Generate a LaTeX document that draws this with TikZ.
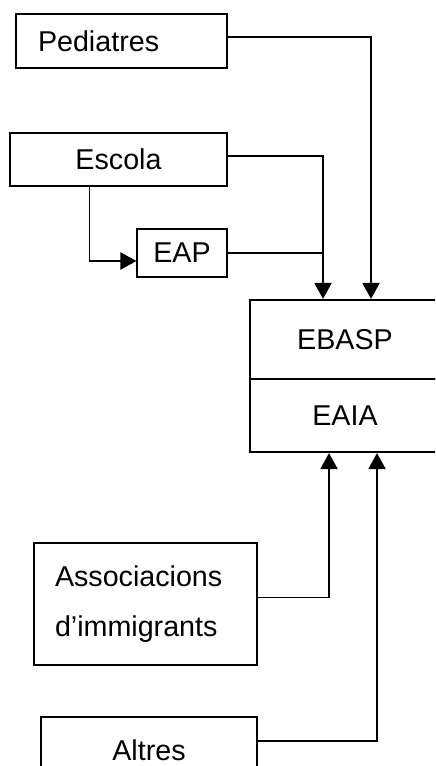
\documentclass[tikz,border=0pt]{standalone}
\usepackage{fontspec}
\setmainfont{Liberation Sans}
\usetikzlibrary{arrows.meta}

\tikzset{
	box/.style={draw,line width=0.9pt,inner sep=0pt,align=center},
	leftbox/.style={draw,line width=0.9pt,inner ysep=0pt,align=left},
	teambox/.style={draw,line width=1.7pt,inner sep=0pt,minimum width=142.5pt},
	link/.style={line width=0.9pt},
	arr/.style={line width=0.9pt,-{Triangle[length=12pt,width=13pt]}}
}

\begin{document}
\begin{tikzpicture}[x=0.75pt,y=-0.75pt,font=\fontsize{21.5}{38}\selectfont]
		\clip (0,0) rectangle (435,766);
		\fill[white] (0,0) rectangle (435,766);

		\node[leftbox,inner xsep=16.5pt,text width=125.25pt,minimum height=40.5pt] (ped) at (121.5,41) {Pediatres};
		\node[box,minimum width=162.75pt,minimum height=39.75pt] (esc) at (118.5,159.5) {Escola};
		\node[box,minimum width=67.5pt,minimum height=36pt] (eap) at (182,253) {EAP};

		\node[teambox,minimum height=59.25pt] (ebasp) at (345,339.5) {EBASP};
		\node[teambox,minimum height=54.75pt] (eaia) at (345,415.5) {EAIA};

		\node[leftbox,inner xsep=15.75pt,text width=135.75pt,minimum height=91.5pt] (assoc) at (145.5,604) {Associacions\\d’immigrants};
		\node[box,minimum width=162pt,minimum height=49.5pt] (alt) at (149,750) {Altres};

		\coordinate (EBIN) at ([xshift=-16.5pt]ebasp.north);

		\draw [arr] ([yshift=3pt]ped.east) -| ([xshift=19.5pt]ebasp.north);
		\draw [arr] ([yshift=2.6pt]esc.east) -| (EBIN);
		\draw [link] (eap.east) -- (eap.east -| EBIN);
		\draw [arr] ([xshift=-22pt]esc.south) |- ([yshift=-6pt]eap.west);

		\draw [arr] ([yshift=5pt]assoc.east) -| ([xshift=-12pt]eaia.south);
		\draw [arr] ([yshift=6.75pt]alt.east) -| ([xshift=24pt]eaia.south);
	\end{tikzpicture}
\end{document}
